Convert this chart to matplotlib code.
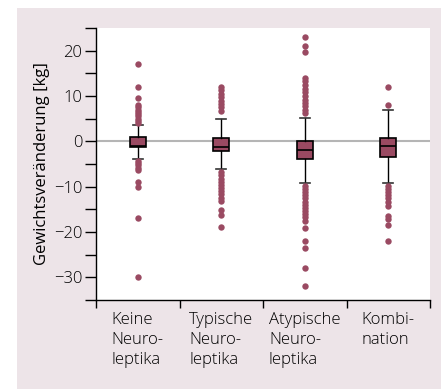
import matplotlib.pyplot as plt
from matplotlib.patches import Rectangle

# categories (line breaks as in the original)
labels = ['Keine\nNeuro-\nleptika', 'Typische\nNeuro-\nleptika',
          'Atypische\nNeuro-\nleptika', 'Kombi-\nnation']

# box statistics (kg)
medians = [-1.0, -1.2, -2.0, -1.1]
q1 = [-1.2, -2.1, -4.0, -3.4]
q3 = [0.9, 0.8, 0.0, 0.8]
whisk_lo = [-4.0, -6.2, -9.2, -9.2]
whisk_hi = [3.6, 4.9, 5.2, 6.9]

# outliers
fliers_keine = [17, 12, 9.5, 8, 7.5, 7, 6.5, 6, 5.5, 5, 4.5, 4,
                -4.3, -4.8, -5.3, -5.8, -6.3, -9, -10, -17, -30]
fliers_typ = [12, 11.3, 10.5, 9.8, 9, 8.3, 7.5, 6.8,
              -6.8, -7.5, -8.2, -8.9, -9.6, -10.3, -11, -11.7, -12.4, -13.1,
              -15.2, -16.2, -19]
fliers_atyp = [23, 21, 19.8, 14, 13.3, 12.5, 11.5, 10.8, 10, 9.2, 8.5, 7.8,
               7, 6.2,
               -9.8, -10.5, -11.2, -11.9, -12.6, -13.3, -14, -14.7, -15.4,
               -16.1, -16.8, -17.5, -19.2, -22, -23.5, -28, -32]
fliers_komb = [12, 8, -9.8, -10.5, -11.2, -11.9, -12.6, -13.3, -14.2,
               -16.4, -17.2, -18.5, -22]
fliers = [fliers_keine, fliers_typ, fliers_atyp, fliers_komb]

plt.rcParams['font.family'] = ['Open Sans', 'DejaVu Sans']
plt.rcParams['font.weight'] = 'light'

fig = plt.figure(figsize=(4.41, 3.89), dpi=100, facecolor='white')
# pink panel behind the chart
fig.patches.append(Rectangle((17 / 441, 0), 1, 1 - 8 / 389,
                             transform=fig.transFigure,
                             facecolor='#ede4e8', edgecolor='none', zorder=-1))
ax = fig.add_axes([96 / 441, 1 - 300 / 389, 334 / 441, 272 / 389])
ax.set_facecolor('white')

col = '#9a4a62'
stats = []
for i in range(4):
    stats.append(dict(med=medians[i], q1=q1[i], q3=q3[i],
                      whislo=whisk_lo[i], whishi=whisk_hi[i],
                      fliers=fliers[i]))

ax.axhline(0, color='#b5b5b5', lw=1.5, zorder=1)
ax.bxp(stats, positions=[1, 2, 3, 4], widths=0.19, capwidths=0.12,
       patch_artist=True, zorder=3,
       boxprops=dict(facecolor=col, edgecolor='black', linewidth=1.2),
       medianprops=dict(color='black', linewidth=1.2),
       whiskerprops=dict(color='black', linewidth=1.0),
       capprops=dict(color='#333333', linewidth=1.2),
       flierprops=dict(marker='o', markersize=4.6, markerfacecolor=col,
                       markeredgecolor='none'))

ax.set_xlim(0.5, 4.5)
ax.set_ylim(-35, 25)
ax.set_yticks([-30, -20, -10, 0, 10, 20])
ax.set_yticks([-35, -25, -15, -5, 5, 15, 25], minor=True)
ax.set_xticks([1, 2, 3, 4])
ax.set_xticklabels(labels, ha='center', multialignment='left',
                   linespacing=1.3)
ax.set_xticks([0.5, 1.5, 2.5, 3.5, 4.5], minor=True)
ax.tick_params(axis='x', which='major', length=0, pad=9, labelsize=12)
ax.tick_params(axis='x', which='minor', length=6, width=1.0, direction='out')
ax.tick_params(axis='y', which='both', length=8, width=1.0,
               direction='out', labelsize=12, pad=2)
ax.set_ylabel('Gewichtsveränderung [kg]', fontsize=12, labelpad=3)
ax.spines['top'].set_visible(False)
ax.spines['right'].set_visible(False)
for s in ['left', 'bottom']:
    ax.spines[s].set_linewidth(1.0)

fig.savefig('out.png', dpi=100)
